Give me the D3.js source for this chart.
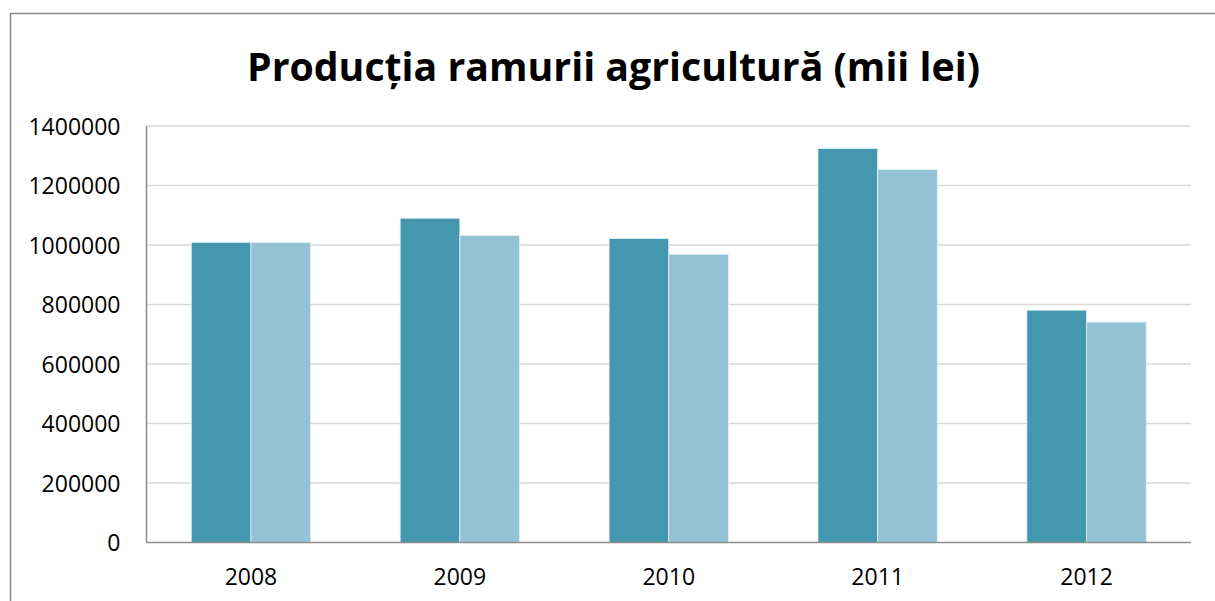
<!DOCTYPE html>
<html>
<head>
<meta charset="utf-8">
<script src="https://cdn.jsdelivr.net/npm/d3@7"></script>
<style>
  html, body { margin: 0; padding: 0; background: #fff; }
  svg { display: block; }
</style>
</head>
<body>
<svg id="chart" width="1215" height="601"></svg>
<script>
const title = "Producția ramurii agricultură (mii lei)";
const categories = ["2008", "2009", "2010", "2011", "2012"];
const seriesA = [1009000, 1090000, 1022000, 1324000, 781000];
const seriesB = [1008000, 1032000, 969000, 1254000, 741000];
const yTicks = [0, 200000, 400000, 600000, 800000, 1000000, 1200000, 1400000];
const seriesColors = ["#4397AE", "#93C2D4"];

const svg = d3.select("#chart");
const m = { left: 146.5, right: 1191, top: 126, bottom: 542.5 };

// outer frame
svg.append("rect").attr("x", 10.5).attr("y", 13.5).attr("width", 1230).attr("height", 620)
  .attr("fill", "#fff").attr("stroke", "#878787").attr("stroke-width", 1.5);

const x0 = d3.scaleBand().domain(categories).range([m.left, m.right]).padding(0);
const x1 = d3.scaleBand().domain([0, 1]).range([0, x0.bandwidth()]).paddingInner(0).paddingOuter(0.75);
const y = d3.scaleLinear().domain([0, 1400000]).range([m.bottom, m.top]);

// gridlines
svg.append("g").selectAll("line").data(yTicks.filter(d => d > 0)).join("line")
  .attr("x1", m.left).attr("x2", m.right)
  .attr("y1", d => y(d)).attr("y2", d => y(d))
  .attr("stroke", "#d9d9d9").attr("stroke-width", 1.5);

// bars
const data = categories.map((c, i) => ({ c, vals: [seriesA[i], seriesB[i]] }));
const g = svg.append("g");
data.forEach(d => {
  d.vals.forEach((v, k) => {
    g.append("rect")
      .attr("x", x0(d.c) + x1(k))
      .attr("y", y(v))
      .attr("width", x1.bandwidth())
      .attr("height", y(0) - y(v))
      .attr("fill", seriesColors[k])
      .attr("stroke", "#e4f1f5").attr("stroke-width", 0.8);
  });
});

// y axis
const yAxis = d3.axisLeft(y).tickValues(yTicks).tickFormat(d => String(d)).tickSize(0).tickPadding(26);
const ya = svg.append("g").attr("transform", `translate(${m.left},0)`).call(yAxis);
ya.select(".domain").remove();
ya.selectAll("text").attr("font-family", "'Open Sans', sans-serif").attr("font-size", 23).attr("fill", "#000")
  .attr("dy", "0.35em");
svg.append("line").attr("x1", m.left).attr("x2", m.left).attr("y1", m.top).attr("y2", m.bottom)
  .attr("stroke", "#8c8c8c").attr("stroke-width", 1.5);

// x axis
const xAxis = d3.axisBottom(x0).tickSize(0).tickPadding(26);
const xa = svg.append("g").attr("transform", `translate(0,${m.bottom})`).call(xAxis);
xa.select(".domain").remove();
xa.selectAll("text").attr("font-family", "'Open Sans', sans-serif").attr("font-size", 23).attr("fill", "#000");
svg.append("line").attr("x1", m.left).attr("x2", m.right).attr("y1", m.bottom).attr("y2", m.bottom)
  .attr("stroke", "#8c8c8c").attr("stroke-width", 1.5);

// title
const t = svg.append("text").attr("x", 613.5).attr("y", 81).attr("text-anchor", "middle")
  .attr("font-family", "'Open Sans', sans-serif").attr("font-weight", "bold").attr("font-size", 40)
  .attr("fill", "#000").text(title);
const len = t.node().getComputedTextLength();
t.attr("font-size", 40 * 733 / len);
</script>
</body>
</html>
